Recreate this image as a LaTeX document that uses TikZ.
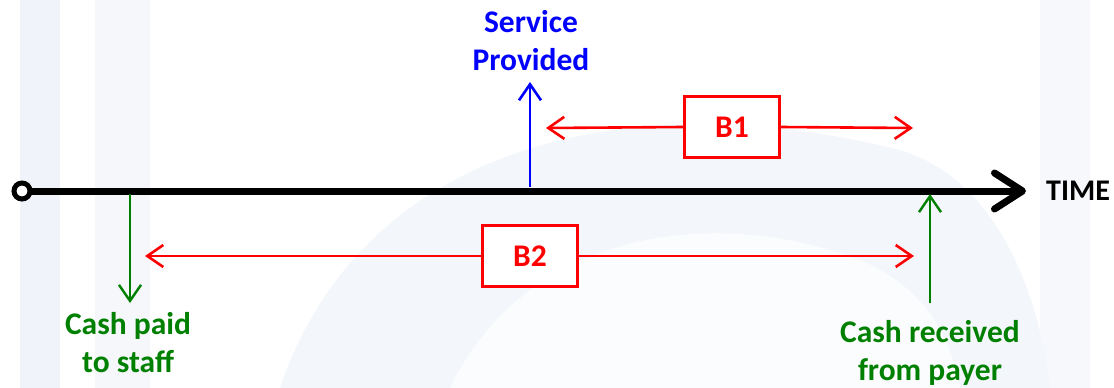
\documentclass[tikz,border=0pt]{standalone}
\usepackage{fontspec}
\setmainfont{Carlito}
\usetikzlibrary{arrows.meta}
\definecolor{svcblue}{RGB}{0,0,255}
\definecolor{cashgreen}{RGB}{0,128,0}
\definecolor{gapred}{RGB}{255,0,0}
\definecolor{wmark}{RGB}{240,244,250}
\begin{document}
\begin{tikzpicture}[x=1pt,y=-1pt,
  lbl/.style={font=\fontsize{31.5}{38}\selectfont\bfseries, align=center, inner sep=0pt},
  gapbox/.style={draw=gapred, line width=2.8pt, fill=white, text=gapred,
    minimum width=95pt, minimum height=61pt, inner sep=0pt,
    font=\fontsize{31.5}{38}\selectfont\bfseries},
  gaparrow/.style={draw=gapred, line width=2.6pt, -{Straight Barb[length=16pt,width=22pt]}},
  svcarrow/.style={draw=svcblue, line width=2.6pt, -{Straight Barb[length=16pt,width=22pt]}},
  casharrow/.style={draw=cashgreen, line width=2.4pt, -{Straight Barb[length=16pt,width=22pt]}},
  timeline/.style={draw=black, line width=7pt, line cap=round,
    -{Straight Barb[length=28pt,width=36pt,line cap=round,round]}}]
\useasboundingbox (0,0) rectangle (1114,388);
% faint watermark in the background
\fill[wmark] (20,0) rectangle (60,388);
\fill[wmark!70!white] (95,0) rectangle (150,388);
\fill[wmark!60!white] (1040,0) rectangle (1090,388);
\fill[wmark!80!white] (280,388) .. controls (360,150) and (620,80) .. (900,150)
  .. controls (1000,180) and (1040,300) .. (1050,388) -- cycle;
\fill[white!70!wmark] (450,388) .. controls (520,240) and (700,200) .. (860,260)
  .. controls (930,290) and (950,340) .. (960,388) -- cycle;

% time axis
\node[circle, draw=black, line width=5pt, fill=white, minimum size=16pt, inner sep=0pt] (origin) at (22,191) {};
\coordinate (tend) at (1026,191);
\draw[timeline] (origin.east) -- (tend);
\node[lbl, anchor=west, font=\fontsize{30}{36}\selectfont\bfseries] (time) at (1046,191) {TIME};

% service provided
\coordinate (svcbase) at (530,187);
\coordinate (svctip) at (530,82);
\draw[svcarrow] (svcbase) -- (svctip);
\node[lbl, text=svcblue] (svc) at (531,41) {Service\\Provided};

% gap B1
\node[gapbox] (b1) at (732,127) {B1};
\coordinate (b1l) at (546,128);
\coordinate (b1r) at (913,128);
\draw[gaparrow] (b1.west) -- (b1l);
\draw[gaparrow] (b1.east) -- (b1r);

% gap B2
\node[gapbox] (b2) at (530,256) {B2};
\coordinate (b2l) at (145,256);
\coordinate (b2r) at (914,256);
\draw[gaparrow] (b2.west) -- (b2l);
\draw[gaparrow] (b2.east) -- (b2r);

% cash paid to staff
\coordinate (paidbase) at (130,194);
\coordinate (paidtip) at (130,303);
\draw[casharrow] (paidbase) -- (paidtip);
\node[lbl, text=cashgreen] (paid) at (128,343) {Cash paid\\to staff};

% cash received from payer
\coordinate (recvbase) at (930,303);
\coordinate (recvtip) at (930,194);
\draw[casharrow] (recvbase) -- (recvtip);
\node[lbl, text=cashgreen] (recv) at (930,353) {Cash received\\from payer};
\end{tikzpicture}
\end{document}
